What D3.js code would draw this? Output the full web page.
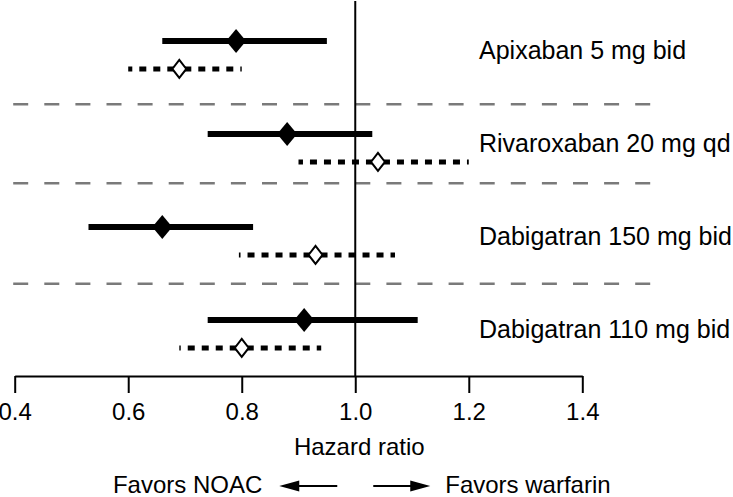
<!DOCTYPE html>
<html>
<head>
<meta charset="utf-8">
<script src="https://cdn.jsdelivr.net/npm/d3@7"></script>
<style>
  body { margin: 0; background: #fff; }
  svg { display: block; }
  text { font-family: "Liberation Sans", Arial, Helvetica, sans-serif; fill: #000; }
</style>
</head>
<body>
<svg id="forest"></svg>
<script>
// rows, top to bottom
const drugs = ["Apixaban 5 mg bid", "Rivaroxaban 20 mg qd", "Dabigatran 150 mg bid", "Dabigatran 110 mg bid"];
// filled diamonds, solid lines
const solidHR = [0.79, 0.88, 0.66, 0.91];
const solidLo = [0.66, 0.74, 0.53, 0.74];
const solidHi = [0.95, 1.03, 0.82, 1.11];
// open diamonds, dotted lines
const openHR = [0.69, 1.04, 0.93, 0.80];
const openLo = [0.60, 0.90, 0.795, 0.69];
const openHi = [0.80, 1.20, 1.07, 0.94];
const xTicks = [0.4, 0.6, 0.8, 1.0, 1.2, 1.4];
// grey dashed row separators, in row units
const separators = [0.68, 1.53, 2.61];

const width = 733;
const height = 497;

const svg = d3.select("#forest")
  .attr("width", width)
  .attr("height", height);

const x = d3.scaleLinear().domain([0.4, 1.4]).range([14.7, 582.3]);
const y = d3.scaleLinear().domain([0, 3]).range([41, 320]);
const axisY = 376;
const labelX = 479;

// build one table for the rows
const rows = drugs.map((name, i) => ({
  name, i,
  solid: { hr: solidHR[i], lo: solidLo[i], hi: solidHi[i] },
  open: { hr: openHR[i], lo: openLo[i], hi: openHi[i] }
}));

// separators
svg.selectAll(".sep")
  .data(separators)
  .enter()
  .append("line")
  .attr("class", "sep")
  .attr("x1", x(0.4) - 1.5)
  .attr("x2", x(1.52))
  .attr("y1", d => y(d))
  .attr("y2", d => y(d))
  .attr("stroke", "#7a7a7a")
  .attr("stroke-width", 2.5)
  .attr("stroke-dasharray", "15 16.1");

// reference line at HR = 1
svg.append("line")
  .attr("x1", x(1)).attr("x2", x(1))
  .attr("y1", 1).attr("y2", axisY)
  .attr("stroke", "#000")
  .attr("stroke-width", 2);

// x axis
const xAxis = d3.axisBottom(x)
  .tickValues(xTicks)
  .tickFormat(d3.format(".1f"))
  .tickSize(17)
  .tickSizeOuter(0)
  .tickPadding(10);

const xAxisG = svg.append("g")
  .attr("transform", `translate(0,${axisY})`)
  .call(xAxis);

xAxisG.select(".domain").attr("stroke-width", 2);
xAxisG.selectAll(".tick line").attr("stroke-width", 2);
xAxisG.selectAll(".tick text")
  .attr("font-size", 24)
  .attr("font-family", "Liberation Sans, Arial, Helvetica, sans-serif");

svg.append("text")
  .attr("x", x(1) + 4)
  .attr("y", 455)
  .attr("text-anchor", "middle")
  .attr("font-size", 24)
  .text("Hazard ratio");

// solid CI lines
svg.selectAll(".ci-solid")
  .data(rows)
  .enter()
  .append("line")
  .attr("class", "ci-solid")
  .attr("x1", d => x(d.solid.lo))
  .attr("x2", d => x(d.solid.hi))
  .attr("y1", d => y(d.i))
  .attr("y2", d => y(d.i))
  .attr("stroke", "#000")
  .attr("stroke-width", 6);

// dotted CI lines, drawn outward from the estimate so the dashes sit like the original
const dotted = svg.append("g");
rows.forEach(d => {
  const yy = y(d.i + 0.3);
  [d.open.lo, d.open.hi].forEach(end => {
    dotted.append("line")
      .attr("x1", x(d.open.hr))
      .attr("x2", x(end))
      .attr("y1", yy)
      .attr("y2", yy)
      .attr("stroke", "#000")
      .attr("stroke-width", 5)
      .attr("stroke-dasharray", "7 7")
      .attr("stroke-dashoffset", 9);
  });
});

function diamond(cx, cy, hw, hh) {
  return `M${cx},${cy - hh}L${cx + hw},${cy}L${cx},${cy + hh}L${cx - hw},${cy}Z`;
}

// filled diamonds
svg.selectAll(".pt-solid")
  .data(rows)
  .enter()
  .append("path")
  .attr("class", "pt-solid")
  .attr("d", d => diamond(x(d.solid.hr), y(d.i), 10, 12))
  .attr("fill", "#000");

// open diamonds
svg.selectAll(".pt-open")
  .data(rows)
  .enter()
  .append("path")
  .attr("class", "pt-open")
  .attr("d", d => diamond(x(d.open.hr), y(d.i + 0.3), 7, 9))
  .attr("fill", "#fff")
  .attr("stroke", "#000")
  .attr("stroke-width", 2);

// row labels
svg.selectAll(".row-label")
  .data(rows)
  .enter()
  .append("text")
  .attr("class", "row-label")
  .attr("x", labelX)
  .attr("y", d => y(d.i + 0.19))
  .attr("font-size", 25)
  .text(d => d.name);

// favours arrows
const arrowY = 486;
const favor = svg.append("g");
favor.append("line")
  .attr("x1", x(1) - 18).attr("x2", x(1) - 60)
  .attr("y1", arrowY).attr("y2", arrowY)
  .attr("stroke", "#000").attr("stroke-width", 2);
favor.append("path")
  .attr("d", `M${x(1) - 76},${arrowY}L${x(1) - 56},${arrowY - 5.5}L${x(1) - 56},${arrowY + 5.5}Z`)
  .attr("fill", "#000");
favor.append("line")
  .attr("x1", x(1) + 18).attr("x2", x(1) + 60)
  .attr("y1", arrowY).attr("y2", arrowY)
  .attr("stroke", "#000").attr("stroke-width", 2);
favor.append("path")
  .attr("d", `M${x(1) + 75},${arrowY}L${x(1) + 55},${arrowY - 5.5}L${x(1) + 55},${arrowY + 5.5}Z`)
  .attr("fill", "#000");
favor.append("text")
  .attr("x", x(1) - 93)
  .attr("y", 493)
  .attr("text-anchor", "end")
  .attr("font-size", 24)
  .text("Favors NOAC");
favor.append("text")
  .attr("x", x(1) + 90)
  .attr("y", 493)
  .attr("font-size", 24)
  .text("Favors warfarin");
</script>
</body>
</html>
